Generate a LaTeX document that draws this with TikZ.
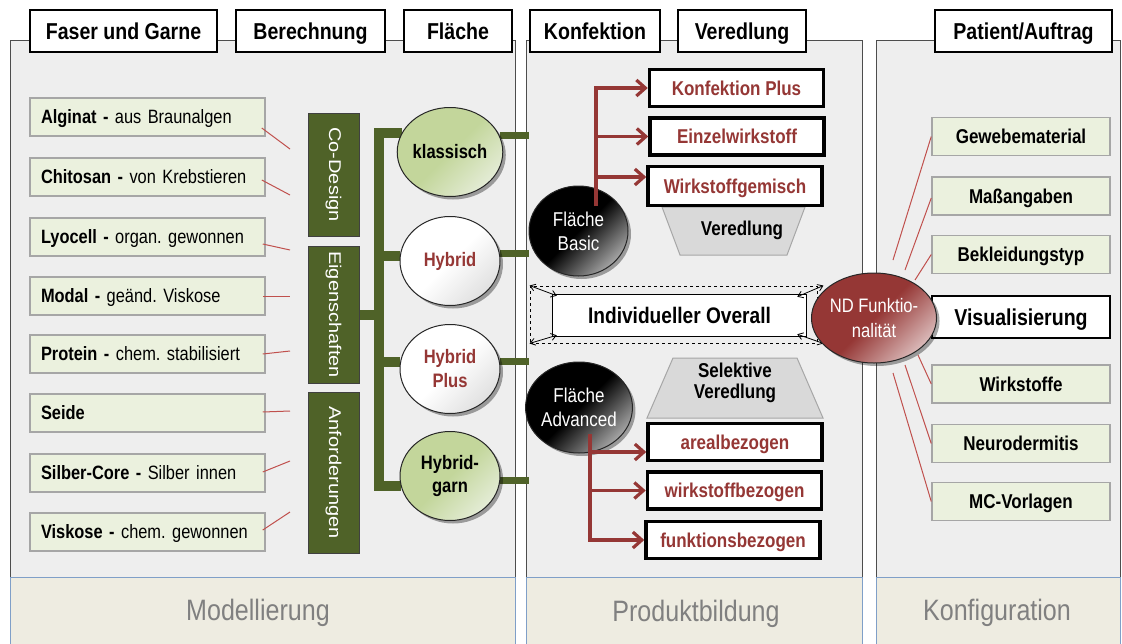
\documentclass[tikz,border=0pt]{standalone}
\usepackage{fontspec}
\usepackage{graphicx}
\setmainfont{Liberation Sans}[FakeStretch=0.85]
\newfontfamily\vfont{Liberation Sans}
\usetikzlibrary{arrows.meta,calc,shadows,shapes.geometric}
\pgfdeclarelayer{bg}
\pgfdeclarelayer{mid}
\pgfsetlayers{bg,mid,main}
\definecolor{panelbg}{HTML}{EEEEEE}
\definecolor{panelline}{HTML}{4D4D4D}
\definecolor{bandbg}{HTML}{EEECE1}
\definecolor{bandline}{HTML}{7F9FC8}
\definecolor{itembg}{HTML}{EBF1DE}
\definecolor{itemline}{HTML}{A6A6A6}
\definecolor{dgreen}{HTML}{4F6228}
\definecolor{lgreen}{HTML}{C3D69B}
\definecolor{lgreen2}{HTML}{E4ECD6}
\definecolor{dred}{HTML}{953735}
\definecolor{lred}{HTML}{C0504D}
\definecolor{capgray}{HTML}{808080}
\definecolor{trapfill}{HTML}{D9D9D9}
\begin{document}
\frenchspacing
\begin{tikzpicture}[x=1pt,y=-1pt,
 panel/.style={draw=panelline, line width=1pt, fill=panelbg},
 band/.style={draw=bandline, line width=1pt, fill=bandbg},
 tab/.style={draw=black, line width=1.1pt, fill=white, minimum height=42pt, inner sep=0pt, text height=17.5pt, text depth=1pt, font=\bfseries\fontsize{23}{27}\selectfont},
 captext/.style={text=capgray, font=\fontsize{29.5}{34}\selectfont},
 item/.style={draw=itemline, line width=1.5pt, fill=itembg, minimum height=38pt, text width=213pt, inner xsep=11pt, inner ysep=0pt, text height=14.8pt, text depth=1pt, align=left, font=\fontsize{19.3}{22}\selectfont},
 cfg/.style={draw=itemline, line width=1.5pt, fill=itembg, minimum width=178pt, minimum height=38pt, inner sep=0pt, text height=15.3pt, text depth=1pt, font=\bfseries\fontsize{20}{24}\selectfont},
 thinred/.style={draw=lred, line width=1pt},
 gbox/.style={fill=dgreen, draw=black!75, line width=1pt, rotate=-90, minimum height=51pt, inner sep=0pt, text=white, font=\vfont\fontsize{20}{24}\selectfont},
 trunk/.style={draw=dgreen, line width=10pt},
 stub/.style={draw=dgreen, line width=7pt},
 oval/.style={ellipse, draw=black!85, line width=1pt, minimum width=100pt, minimum height=89pt, inner sep=0pt, align=center, drop shadow={shadow xshift=3pt, shadow yshift=-3pt, opacity=0.35, fill=black}},
 greenball/.style={oval, top color=lgreen, bottom color=lgreen2, middle color=lgreen, shading angle=45, font=\bfseries\fontsize{19.5}{23}\selectfont},
 whiteball/.style={oval, top color=white, bottom color=black!12, middle color=white, shading angle=45, text=dred, font=\bfseries\fontsize{19.5}{24}\selectfont},
 blackball/.style={oval, top color=black, bottom color=black!35, middle color=black, shading angle=45, text=white, font=\fontsize{20}{24}\selectfont},
 redball/.style={oval, top color=dred, bottom color=dred!35, middle color=dred, shading angle=45, text=white, font=\fontsize{19.5}{25}\selectfont},
 pbox/.style={draw=black, line width=3.5pt, fill=white, minimum width=174pt, minimum height=37pt, inner sep=0pt, text height=15.3pt, text depth=1pt, text=dred, font=\bfseries\fontsize{20}{24}\selectfont},
 rarrow/.style={draw=dred, line width=3.2pt, -{Straight Barb[length=9pt,width=16pt]}},
 trap/.style={draw=black!35, line width=1pt, fill=trapfill},
 traptext/.style={align=center, font=\bfseries\fontsize{20}{21}\selectfont},
 corner/.style={draw=black, line width=0.8pt, {Straight Barb[length=5pt,width=7pt]}-{Straight Barb[length=5pt,width=7pt]}}
]
\useasboundingbox (0,0) rectangle (1122,643);
\begin{pgfonlayer}{bg}
\fill[white] (0,0) rectangle (1122,643);
\path[panel] (10,646) -- (10,40) -- (515,40) -- (515,646);
\path[band] (10,577) rectangle (515,647);
\path[panel] (526,646) -- (526,40) -- (862,40) -- (862,646);
\path[band] (526,577) rectangle (862,647);
\path[panel] (876,646) -- (876,40) -- (1120,40) -- (1120,646);
\path[band] (876,577) rectangle (1120,647);
\end{pgfonlayer}

% captions
\node[captext] (capM) at (258,613) {Modellierung};
\node[captext] (capP) at (696,614) {Produktbildung};
\node[captext] (capK) at (997,613) {Konfiguration};

% tabs
\node[tab, minimum width=187pt] (t1) at (123.5,31) {Faser und Garne};
\node[tab, minimum width=149pt] (t2) at (310.5,31) {Berechnung};
\node[tab, minimum width=108pt] (t3) at (458,31) {Fläche};
\node[tab, minimum width=130pt] (t4) at (595,31) {Konfektion};
\node[tab, minimum width=128pt] (t5) at (742,31) {Veredlung};
\node[tab, minimum width=177pt] (t6) at (1023.5,31) {Patient/Auftrag};

% left items
\node[item] (alg) at (147.5,117) {\textbf{Alginat -} aus Braunalgen};
\node[item] (chi) at (147.5,177) {\textbf{Chitosan -} von Krebstieren};
\node[item] (lyo) at (147.5,237) {\textbf{Lyocell -} organ. gewonnen};
\node[item] (mod) at (147.5,296) {\textbf{Modal -} geänd. Viskose};
\node[item] (pro) at (147.5,354) {\textbf{Protein -} chem. stabilisiert};
\node[item] (sei) at (147.5,413) {\textbf{Seide}};
\node[item] (sil) at (147.5,473) {\textbf{Silber-Core -} Silber innen};
\node[item] (vis) at (147.5,532) {\textbf{Viskose -} chem. gewonnen};

\coordinate (e1) at (290,149);
\coordinate (e2) at (290,195);
\coordinate (e3) at (290,250);
\coordinate (e4) at (290,296);
\coordinate (e5) at (290,351);
\coordinate (e6) at (290,411);
\coordinate (e7) at (290,461);
\coordinate (e8) at (290,512);
\draw[thinred] ($(alg.east)+(-4,11)$) -- (e1);
\draw[thinred] ($(chi.east)+(-4,3)$) -- (e2);
\draw[thinred] ($(lyo.east)+(-3,7)$) -- (e3);
\draw[thinred] ($(mod.east)+(-3,0)$) -- (e4);
\draw[thinred] ($(pro.east)+(-3,0)$) -- (e5);
\draw[thinred] ($(sei.east)+(-3,-1)$) -- (e6);
\draw[thinred] ($(sil.east)+(-3,-1)$) -- (e7);
\draw[thinred] ($(vis.east)+(-3,-2)$) -- (e8);

% green category boxes
\node[gbox, minimum width=123pt] (cd) at (333.5,174.5) {\scalebox{1}[0.85]{Co-Design}};
\node[gbox, minimum width=137pt] (eg) at (333.5,314.5) {\scalebox{1}[0.85]{Eigenschaften}};
\node[gbox, minimum width=161pt] (af) at (333.5,472.5) {\scalebox{1}[0.85]{Anforderungen}};

% ovals
\node[greenball] (kl) at (450,152) {klassisch};
\node[whiteball] (hy) at (450,261) {Hybrid};
\node[whiteball] (hp) at (450,369) {Hybrid\\Plus};
\node[greenball] (hg) at (450,476) {Hybrid-\\garn};

\coordinate (tx) at (379,0);
\coordinate (p2) at (529,0);
\begin{pgfonlayer}{mid}
\draw[trunk] (kl.158) -- (kl.158 -| tx) -- (hg.192 -| tx) -- (hg.192);
\draw[trunk] ($(cd.north east)+(0,-12)$) -- ($(cd.north east)+(0,-12)$ -| tx);
\draw[trunk] (eg.north) -- (eg.north -| tx);
\draw[trunk] ($(af.north west)+(0,7)$) -- ($(af.north west)+(0,7)$ -| tx);
\draw[trunk] (hy.174) -- (hy.174 -| tx);
\draw[trunk] (hp.172) -- (hp.172 -| tx);
\draw[stub] (kl.18) -- (kl.18 -| p2);
\draw[stub] (hy.8) -- (hy.8 -| p2);
\draw[stub] (hp.8) -- (hp.8 -| p2);
\draw[stub] (hg.355) -- (hg.355 -| p2);
\end{pgfonlayer}

% panel 2
\draw[trap] (662,207) -- (805,207) -- (787,255) -- (680,255) -- cycle;
\node[traptext] (ver) at (742,230) {Veredlung};
\draw[trap] (673,358) -- (797,358) -- (823,418) -- (647,418) -- cycle;
\node[traptext] (sel) at (735,383) {Selektive\\Veredlung};

\node[pbox] (kp) at (736.5,88) {Konfektion Plus};
\node[pbox] (ew) at (737,136.5) {Einzelwirkstoff};
\node[pbox, minimum height=39pt] (wg) at (735,186) {Wirkstoffgemisch};
\node[pbox] (ar) at (735,442) {arealbezogen};
\node[pbox] (wb) at (734.5,490.5) {wirkstoffbezogen};
\node[pbox] (fu) at (733,540) {funktionsbezogen};

\node[blackball, minimum width=99pt, minimum height=90pt] (fb) at (578.5,231) {Fläche\\Basic};
\node[blackball, minimum width=98pt, minimum height=91pt] (fa) at (579,407.5) {Fläche\\Advanced};

\coordinate (fbt) at (596,206);
\coordinate (wgin) at ($(wg.west)+(0,-9)$);
\draw[rarrow] (fbt) |- (kp.west);
\draw[rarrow] (fbt) |- (ew.west);
\draw[rarrow] (fbt |- wgin) -- (wgin);
\coordinate (fat) at (590,434);
\coordinate (arin) at ($(ar.west)+(0,10)$);
\draw[rarrow] (fat) |- (arin);
\draw[rarrow] (fat) |- (wb.west);
\draw[rarrow] (fat) |- (fu.west);

\node[draw=black, dashed, line width=0.9pt, minimum width=287pt, minimum height=57pt, inner sep=0pt] (iof) at (673.5,314.5) {};
\node[draw=black, line width=1.5pt, fill=white, minimum width=254pt, minimum height=42pt, inner sep=0pt, font=\bfseries\fontsize{22.5}{26}\selectfont] (io) at (679.5,315.5) {Individueller Overall};
\draw[corner] (iof.north west) -- ($(io.north west)+(5,2)$);
\draw[corner] (iof.south west) -- ($(io.south west)+(5,-2)$);
\draw[corner] ($(iof.north east)+(6,0)$) -- ($(io.north east)+(-10,3)$);
\draw[corner] ($(iof.south east)+(6,0)$) -- ($(io.south east)+(-10,-3)$);

% panel 3
\node[cfg] (gm) at (1021,136.5) {Gewebematerial};
\node[cfg] (ma) at (1021,196) {Maßangaben};
\node[cfg] (bk) at (1021,254.5) {Bekleidungstyp};
\node[cfg, fill=white, draw=black, minimum height=42pt, text height=17.5pt, text depth=1pt, font=\bfseries\fontsize{23}{27}\selectfont] (vz) at (1021,317) {Visualisierung};
\node[cfg] (wi) at (1021,384) {Wirkstoffe};
\node[cfg] (ne) at (1021,443.5) {Neurodermitis};
\node[cfg] (mc) at (1021,501.5) {MC-Vorlagen};

\coordinate (g1) at (893,260);
\coordinate (g2) at (905,270);
\coordinate (g3) at (915,280);
\coordinate (g4) at (918,355);
\coordinate (g5) at (905,365);
\coordinate (g6) at (893,373);
\draw[thinred] (gm.west) -- (g1);
\draw[thinred] ($(ma.west)+(0,2)$) -- (g2);
\draw[thinred] (bk.west) -- (g3);
\draw[thinred] (wi.west) -- (g4);
\draw[thinred] (ne.west) -- (g5);
\draw[thinred] (mc.west) -- (g6);

\node[redball, minimum width=98pt, minimum height=90pt] (nd) at (874,318) {ND Funktio-\\nalität};
\end{tikzpicture}
\end{document}
